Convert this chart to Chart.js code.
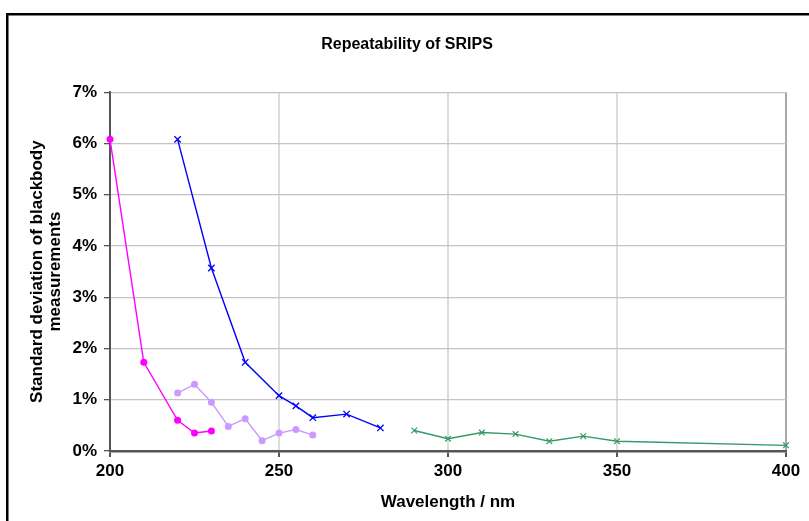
<!DOCTYPE html>
<html>
<head>
<meta charset="utf-8">
<script src="https://cdn.jsdelivr.net/npm/chart.js@4"></script>
<style>
  html, body { margin: 0; padding: 0; background: #fff; }
  canvas { display: block; }
</style>
</head>
<body>
<canvas id="c" width="809" height="521"></canvas>
<script>
const FONT = '"Liberation Sans", Arial, sans-serif';

// wavelength (nm) and std deviation (%)
const blueX    = [220, 230, 240, 250, 255, 260, 270, 280];
const blueY    = [6.08, 3.57, 1.73, 1.08, 0.88, 0.65, 0.72, 0.45];
const magentaX = [200, 210, 220, 225, 230];
const magentaY = [6.08, 1.73, 0.60, 0.35, 0.39];
const lilacX   = [220, 225, 230, 235, 240, 245, 250, 255, 260];
const lilacY   = [1.13, 1.30, 0.95, 0.48, 0.63, 0.20, 0.35, 0.42, 0.31];
const greenX   = [290, 300, 310, 320, 330, 340, 350, 400];
const greenY   = [0.40, 0.24, 0.36, 0.33, 0.19, 0.29, 0.19, 0.11];

const xTicks = [200, 250, 300, 350, 400];

const pts = (xs, ys) => xs.map((x, i) => ({ x, y: ys[i] }));

const frame = {
  id: 'frame',
  beforeDraw(chart) {
    const ctx = chart.ctx;
    ctx.save();
    ctx.strokeStyle = '#000';
    ctx.lineWidth = 2.5;
    ctx.strokeRect(7.25, 14.25, 900, 600);
    ctx.restore();
  }
};

new Chart(document.getElementById('c'), {
  type: 'scatter',
  data: {
    datasets: [
      { data: pts(blueX, blueY), showLine: true, borderColor: '#0000ff', backgroundColor: '#0000ff', clip: false,
        borderWidth: 1.4, pointStyle: 'crossRot', pointRadius: 4.5, pointBorderWidth: 1.3 },
      { data: pts(magentaX, magentaY), showLine: true, borderColor: '#ff00ff', backgroundColor: '#ff00ff', clip: false,
        borderWidth: 1.4, pointStyle: 'circle', pointRadius: 3.5, pointBorderWidth: 0 },
      { data: pts(lilacX, lilacY), showLine: true, borderColor: '#cc99ff', backgroundColor: '#cc99ff', clip: false,
        borderWidth: 1.4, pointStyle: 'circle', pointRadius: 3.5, pointBorderWidth: 0 },
      { data: pts(greenX, greenY), showLine: true, borderColor: '#339966', backgroundColor: '#339966', clip: false,
        borderWidth: 1.4, pointStyle: 'crossRot', pointRadius: 4, pointBorderWidth: 1.2 }
    ]
  },
  options: {
    responsive: false,
    animation: false,
    layout: { padding: { left: 28, right: 23, top: 0, bottom: 0 } },
    plugins: {
      legend: { display: false },
      tooltip: { enabled: false },
      title: {
        display: true, text: 'Repeatability of SRIPS', color: '#000',
        font: { family: FONT, size: 16, weight: 'bold' },
        padding: { top: 35, bottom: 38 }
      }
    },
    scales: {
      x: {
        type: 'linear', min: 200, max: 400,
        afterBuildTicks: s => { s.ticks = xTicks.map(v => ({ value: v })); },
        afterFit: s => { s.height = 70; },
        border: { color: '#555', width: 2.5 },
        grid: {
          color: c => c.tick && c.tick.value === 400 ? '#aaa' : '#dcdcdc',
          lineWidth: 2, tickLength: 6, tickColor: '#555'
        },
        ticks: { color: '#000', padding: 4, font: { family: FONT, size: 17, weight: 'bold' } },
        title: {
          display: true, text: 'Wavelength / nm', color: '#000',
          font: { family: FONT, size: 17, weight: 'bold' },
          padding: { top: 0, bottom: 8 }
        }
      },
      y: {
        min: 0, max: 7,
        afterFit: s => { s.width = 82; },
        border: { color: '#555', width: 2 },
        grid: { color: '#c4c4c4', lineWidth: 1.3, tickLength: 6, tickColor: '#555' },
        ticks: {
          stepSize: 1, color: '#000', padding: 7,
          font: { family: FONT, size: 17, weight: 'bold' },
          callback: v => v + '%'
        },
        title: {
          display: true, text: ['Standard deviation of blackbody', 'measurements'], color: '#000',
          font: { family: FONT, size: 17, weight: 'bold', lineHeight: 1.06 },
          padding: { top: 0, bottom: 0 }
        }
      }
    }
  },
  plugins: [frame]
});
</script>
</body>
</html>
